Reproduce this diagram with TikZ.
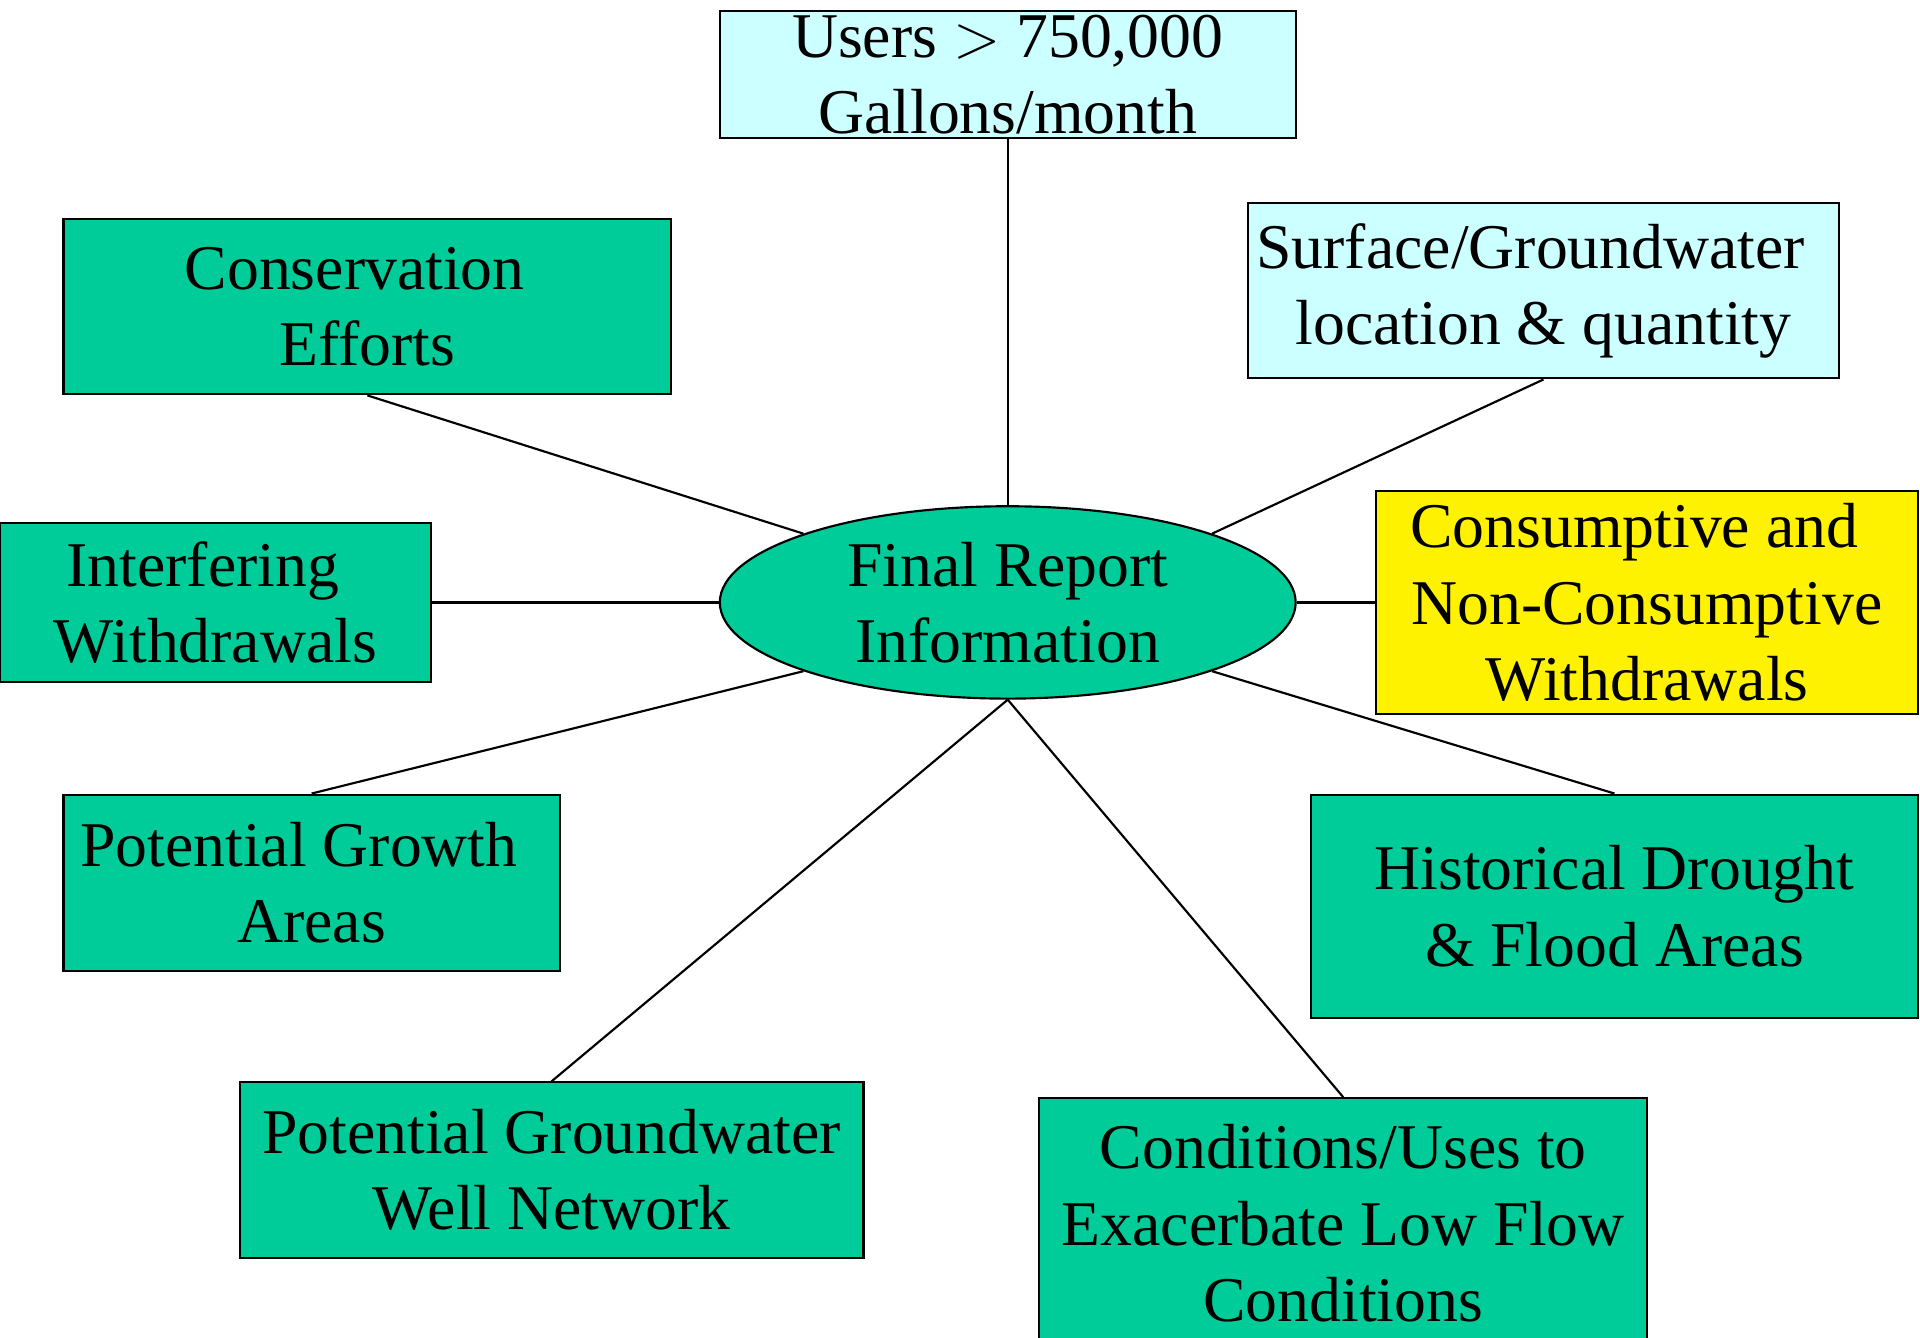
\documentclass[tikz,border=0pt]{standalone}
\usepackage{fontspec}
\setmainfont{Liberation Serif}
\usepackage{xcolor}
\usepackage{tikz}
\usetikzlibrary{shapes}

\definecolor{seagreen}{RGB}{0,204,153}
\definecolor{palecyan}{RGB}{204,255,255}
\newcommand{\trail}{\hspace*{.4em}}

\begin{document}
\begin{tikzpicture}
            [x=0.01cm,y=-0.01cm,
             every node/.style={font=\fontsize{14.8}{17.7}\selectfont,align=center,inner sep=0pt},
             box node/.style={rectangle,draw,line width=0.5pt,fill=seagreen},
             info node/.style={box node,fill=palecyan},
             main node/.style={ellipse,draw,line width=0.5pt,fill=seagreen}]
            \useasboundingbox (0,0) rectangle (1568,1092);

            \node[main node, minimum width=4.7cm, minimum height=1.57cm] (report) at (823,492) {Final Report\\Information};

            \node[info node, minimum width=4.7cm, minimum height=1.04cm] (users) at (823,61) {Users $>$ 750,000\\Gallons/month};
            \node[info node, minimum width=4.83cm, minimum height=1.43cm] (surface) at (1260.5,237.5) {Surface/Groundwater\trail\\location \& quantity};
            \node[box node, minimum width=4.96cm, minimum height=1.43cm] (conserv) at (300,250.5) {Conservation\trail\\Efforts};
            \node[box node, minimum width=3.52cm, minimum height=1.3cm] (interf) at (176,492) {Interfering\trail\\Withdrawals};
            \node[box node, fill=yellow, minimum width=4.42cm, minimum height=1.82cm] (consump) at (1345,492) {Consumptive and\trail\\Non-Consumptive\\Withdrawals};
            \node[box node, minimum width=4.05cm, minimum height=1.44cm] (growth) at (254.5,721) {Potential Growth\trail\\Areas};
            \node[box node, minimum width=4.95cm, minimum height=1.82cm] (history) at (1318.5,740) {Historical Drought\\\& Flood Areas};
            \node[box node, minimum width=5.09cm, minimum height=1.43cm] (wells) at (450.5,955.5) {Potential Groundwater\\Well Network};
            \node[box node, minimum width=4.96cm, minimum height=2.04cm] (lowflow) at (1097,999) {Conditions/Uses to\\Exacerbate Low Flow\\Conditions};

            \path[line width=0.5pt]
                (report.north) edge (users.south)
                (report.north west) edge (conserv.south)
                (report.north east) edge (surface.south)
                (report.west) edge (interf.east)
                (report.east) edge (consump.west)
                (report.south west) edge (growth.north)
                (report.south east) edge (history.north)
                (report.south) edge (wells.north)
                (report.south) edge (lowflow.north);
        \end{tikzpicture}
\end{document}
